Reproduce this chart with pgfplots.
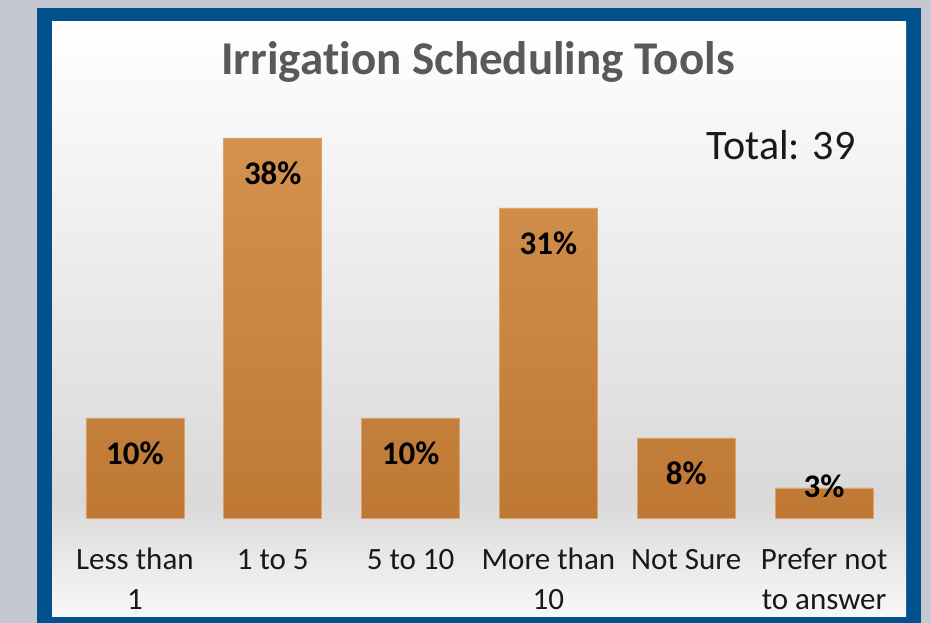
\documentclass[border=0pt]{standalone}
\usepackage{fontspec}
\setmainfont{Carlito}[Ligatures=NoCommon]
\usepackage{pgfplots}
\pgfplotsset{compat=1.18}
\usepackage{pgfplotstable}
\definecolor{bgout}{HTML}{C5C8D0}
\definecolor{frameblue}{HTML}{02518F}
\definecolor{bartop}{HTML}{D4924F}
\definecolor{barbot}{HTML}{BE7834}
\definecolor{baredge}{HTML}{DCA46C}
\definecolor{titlegray}{HTML}{595959}
\definecolor{shadegray}{HTML}{D9D9D9}
\definecolor{lowwhite}{HTML}{F8F8F8}

\pgfplotstableread{
x y s
0 10 -35
1 38 -35
2 10 -35
3 31 -35
4 8 -35
5 3 2
}\datatable

\begin{document}
\begin{tikzpicture}[x=1bp,y=1bp]
\useasboundingbox (0,0) rectangle (931,623);
\fill[bgout] (0,0) rectangle (931,623);
\fill[frameblue] (37,0) rectangle (921,615);
\shade[top color=white, bottom color=shadegray] (52,123) rectangle (906,601);
\shade[top color=shadegray, bottom color=lowwhite] (52,6) rectangle (906,123.2);
\begin{axis}[
  at={(66bp,105bp)}, anchor=south west,
  width=827bp, height=450bp, scale only axis,
  xmin=-0.5, xmax=5.5, ymin=0, ymax=45,
  axis line style={draw=none},
  ytick=\empty,
  xtick={0,1,2,3,4,5},
  xticklabels={{\strut Less than\\1},{\strut 1 to 5},{\strut 5 to 10},{\strut More than\\10},{\strut Not Sure},{\strut Prefer not\\to answer}},
  xticklabel style={align=center, anchor=north, text=black!90,
    font=\fontsize{31bp}{40bp}\selectfont, yshift=-20bp},
  major tick length=0pt,
  clip=false,
]
\addplot[ybar, bar width=98bp, draw=baredge, line width=0.6pt,
  top color=bartop, bottom color=barbot,
  visualization depends on={\thisrow{s} \as \myshift},
  nodes near coords={\pgfmathprintnumber[fixed,precision=0,assume math mode=true]{\pgfplotspointmeta}\%},
  every node near coord/.append style={anchor=center, yshift=\myshift bp,
    text=black, font=\fontsize{33bp}{40bp}\selectfont\bfseries},
] table[x=x, y=y] {\datatable};
\end{axis}
\node[text=titlegray, font=\fontsize{47bp}{56bp}\selectfont\bfseries] at (478,561) {Irrigation Scheduling Tools};
\node[text=black!90, font=\fontsize{42bp}{50bp}\selectfont] at (781,478) {Total: 39};
\end{tikzpicture}
\end{document}
